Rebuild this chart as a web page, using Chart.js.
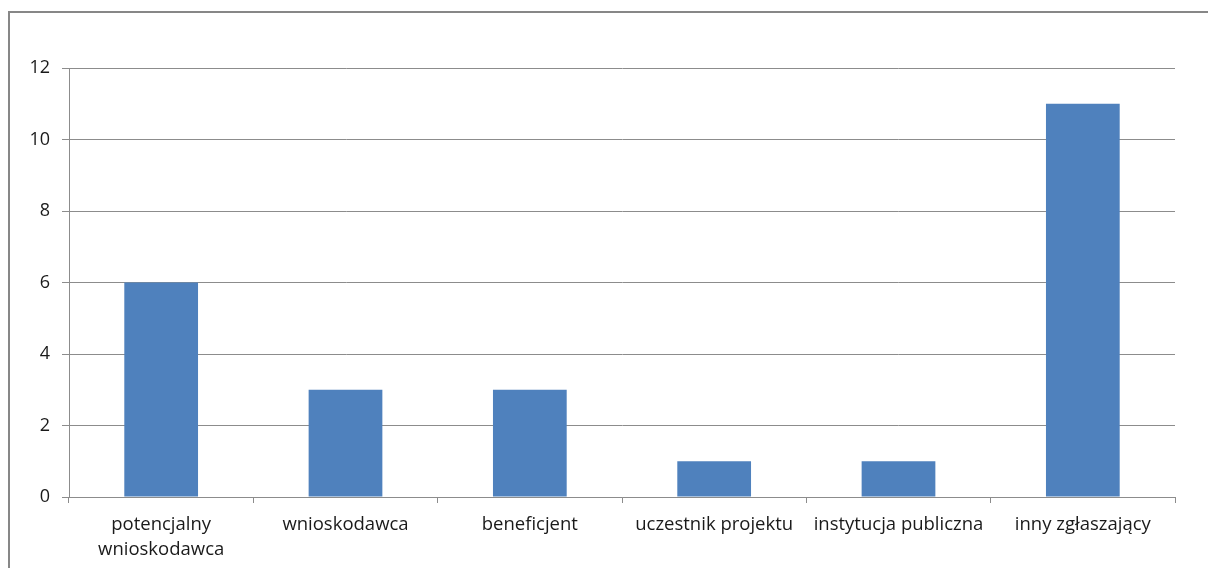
<!DOCTYPE html>
<html>
<head>
<meta charset="utf-8">
<script src="https://cdn.jsdelivr.net/npm/chart.js@4/dist/chart.umd.min.js"></script>
<style>
  html, body { margin: 0; padding: 0; background: #fff; overflow: hidden; }
  #frame { position: absolute; left: 8px; top: 11px; width: 1300px; height: 700px; border: 2px solid #878787; }
  #wrap { position: absolute; left: 0; top: 0; width: 1208px; height: 568px; }
</style>
</head>
<body>
<div id="frame"></div>
<div id="wrap"><canvas id="chart"></canvas></div>
<script>
// data
const categories = [['potencjalny', 'wnioskodawca'], 'wnioskodawca', 'beneficjent', 'uczestnik projektu', 'instytucja publiczna', 'inny zgłaszający'];
const counts = [6, 3, 3, 1, 1, 11];
const yTicks = [0, 2, 4, 6, 8, 10, 12];

const xFont = { family: '"Open Sans", sans-serif', size: 18.5, lineHeight: 1.35 };
const yFont = { family: '"Open Sans", sans-serif', size: 18 };

let ctx = document.getElementById('chart').getContext('2d');
let chart = new Chart(ctx, {
  type: 'bar',
  data: {
    labels: categories,
    datasets: [{
      data: counts,
      backgroundColor: '#4f81bd',
      borderWidth: 0,
      categoryPercentage: 1,
      barPercentage: 0.4
    }]
  },
  options: {
    responsive: true,
    maintainAspectRatio: false,
    animation: false,
    layout: { padding: { top: 68, right: 33, left: 0, bottom: 0 } },
    plugins: { legend: { display: false }, tooltip: { enabled: false } },
    scales: {
      x: {
        offset: true,
        grid: { offset: true, drawOnChartArea: false, drawTicks: true, tickLength: 6, color: '#8c8c8c' },
        border: { color: '#8c8c8c' },
        ticks: { color: '#1a1a1a', font: xFont, padding: 9, maxRotation: 0, autoSkip: false },
        afterFit: s => { s.height = 71; }
      },
      y: {
        min: 0,
        max: 12,
        afterBuildTicks: s => { s.ticks = yTicks.map(v => ({ value: v })); },
        grid: { color: '#8c8c8c', tickLength: 7 },
        border: { color: '#8c8c8c' },
        ticks: { color: '#1a1a1a', font: yFont, padding: 12 },
        afterFit: s => { s.width = 69; }
      }
    }
  }
});
</script>
</body>
</html>
